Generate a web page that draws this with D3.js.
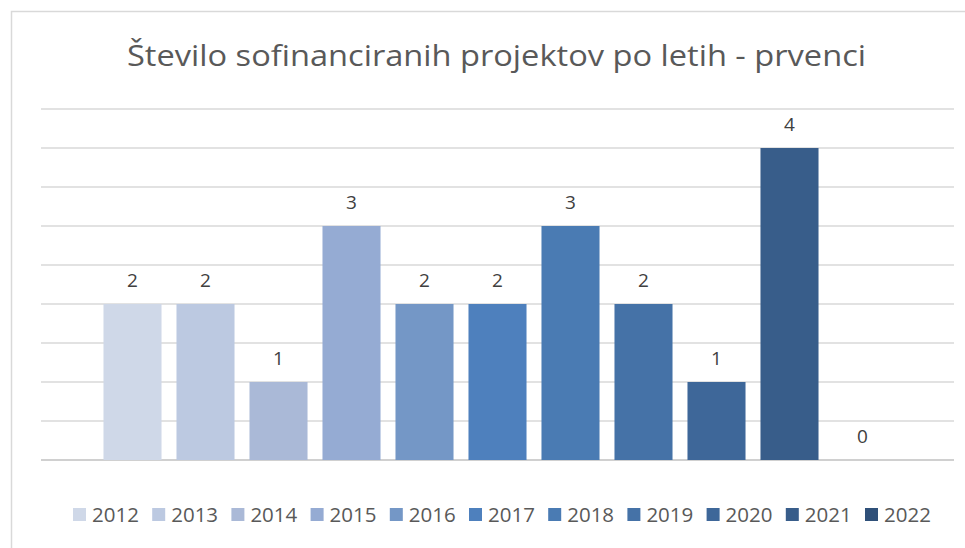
<!DOCTYPE html>
<html>
<head>
<meta charset="utf-8">
<script src="https://cdn.jsdelivr.net/npm/d3@7"></script>
<style>
  body { margin: 0; background: #fff; }
  text { font-family: "Open Sans", "Noto Sans", sans-serif; }
</style>
</head>
<body>
<div id="chart"></div>
<script>
// podatki
var years = ["2012", "2013", "2014", "2015", "2016", "2017", "2018", "2019", "2020", "2021", "2022"];
var counts = [2, 2, 1, 3, 2, 2, 3, 2, 1, 4, 0];
var colors = ["#cfd8e8", "#bcc9e1", "#aab9d7", "#95abd3", "#7497c6", "#4e80bd", "#4a7bb3", "#4572a7", "#3e6799", "#385d8a", "#2f5079"];
var gridTicks = [0, 0.5, 1, 1.5, 2, 2.5, 3, 3.5, 4, 4.5];

var W = 965, H = 548;
var plot = {left: 41, right: 954, top: 109, bottom: 460};

var svg = d3.select("#chart").append("svg")
    .attr("width", W)
    .attr("height", H);

// okvir grafa
svg.append("rect")
    .attr("x", 11.5).attr("y", 11.5)
    .attr("width", W).attr("height", H)
    .attr("fill", "none")
    .attr("stroke", "#d9d9d9")
    .attr("stroke-width", 1.5);

var x = d3.scaleBand()
    .domain(years)
    .range([plot.left, plot.right])
    .paddingInner(0.205)
    .paddingOuter(0.856);

var y = d3.scaleLinear()
    .domain([0, 4.5])
    .range([plot.bottom, plot.top]);

// mreža
svg.append("g")
    .selectAll("line")
    .data(gridTicks)
    .enter()
    .append("line")
    .attr("x1", plot.left)
    .attr("x2", plot.right)
    .attr("y1", function(d) { return y(d); })
    .attr("y2", function(d) { return y(d); })
    .attr("stroke", function(d) { return d === 0 ? "#d0d0d0" : "#d9d9d9"; })
    .attr("stroke-width", function(d) { return d === 0 ? 2 : 1.3; });

var data = years.map(function(yr, i) { return {year: yr, count: counts[i], color: colors[i]}; });

// stolpci
svg.append("g")
    .selectAll("rect")
    .data(data)
    .enter()
    .append("rect")
    .attr("x", function(d) { return x(d.year); })
    .attr("y", function(d) { return y(d.count); })
    .attr("width", x.bandwidth())
    .attr("height", function(d) { return y(0) - y(d.count); })
    .attr("fill", function(d) { return d.color; });

// oznake vrednosti
svg.append("g")
    .selectAll("text")
    .data(data)
    .enter()
    .append("text")
    .attr("x", function(d) { return x(d.year) + x.bandwidth() / 2; })
    .attr("y", function(d) { return y(d.count) - 17; })
    .attr("text-anchor", "middle")
    .style("font-size", "19px")
    .style("fill", "#404040")
    .text(function(d) { return d.count; });

// naslov
svg.append("text")
    .attr("x", 496.5)
    .attr("y", 66)
    .attr("text-anchor", "middle")
    .attr("textLength", 739)
    .attr("lengthAdjust", "spacingAndGlyphs")
    .style("font-size", "30px")
    .style("fill", "#595959")
    .text("Število sofinanciranih projektov po letih - prvenci");

// legenda
var legend = svg.append("g");
var legendStep = 79.2, legendX = 73;
var item = legend.selectAll("g")
    .data(data)
    .enter()
    .append("g")
    .attr("transform", function(d, i) { return "translate(" + (legendX + i * legendStep) + ",508)"; });

item.append("rect")
    .attr("width", 13).attr("height", 13)
    .attr("fill", function(d) { return d.color; });

item.append("text")
    .attr("x", 19)
    .attr("y", 14)
    .style("font-size", "20.5px")
    .style("fill", "#595959")
    .text(function(d) { return d.year; });
</script>
</body>
</html>
